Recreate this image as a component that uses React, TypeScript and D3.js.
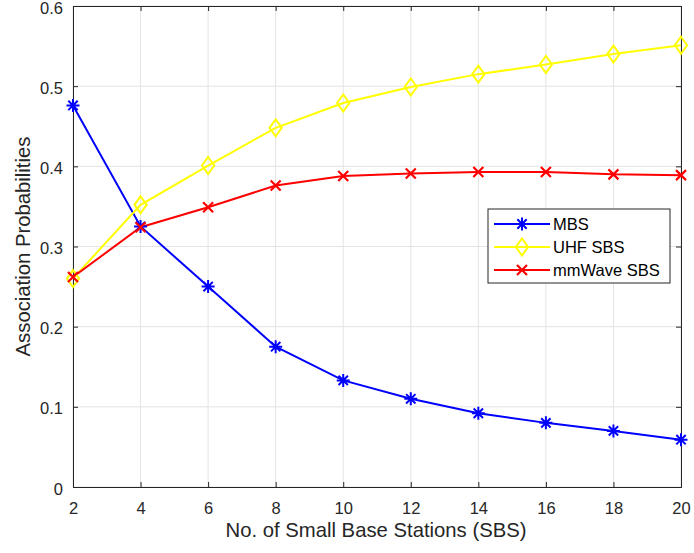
import React, { useEffect, useRef } from "react";
import * as d3 from "d3";

const xValues = [2, 4, 6, 8, 10, 12, 14, 16, 18, 20];
const mbs = [0.476, 0.325, 0.25, 0.175, 0.133, 0.11, 0.092, 0.08, 0.07, 0.059];
const uhf = [0.26, 0.352, 0.401, 0.448, 0.479, 0.499, 0.515, 0.527, 0.54, 0.551];
const mmwave = [0.262, 0.324, 0.349, 0.376, 0.388, 0.391, 0.393, 0.393, 0.39, 0.389];
const xTicks = [2, 4, 6, 8, 10, 12, 14, 16, 18, 20];
const yTicks = [0, 0.1, 0.2, 0.3, 0.4, 0.5, 0.6];

const series = [
  { name: "MBS", values: mbs, color: "#0000ff", marker: "star" },
  { name: "UHF SBS", values: uhf, color: "#ffff00", marker: "diamond" },
  { name: "mmWave SBS", values: mmwave, color: "#ff0000", marker: "x" },
];

const width = 694;
const height = 553;
const margin = { top: 6, right: 13, bottom: 66, left: 73 };
const font = "'Liberation Sans', Arial, Helvetica, sans-serif";

function drawMarker(g: any, kind: string, x: number, y: number, color: string) {
  if (kind === "diamond") {
    const s = 8.5;
    g.append("path")
      .attr("d", `M${x},${y - s}L${x + s * 0.72},${y}L${x},${y + s}L${x - s * 0.72},${y}Z`)
      .attr("fill", "none")
      .attr("stroke", color)
      .attr("stroke-width", 2);
  } else if (kind === "x") {
    const s = 5;
    g.append("path")
      .attr("d", `M${x - s},${y - s}L${x + s},${y + s}M${x - s},${y + s}L${x + s},${y - s}`)
      .attr("stroke", color)
      .attr("stroke-width", 2.2);
  } else {
    const s = 6.5;
    const d = s * 0.72;
    g.append("path")
      .attr(
        "d",
        `M${x},${y - s}L${x},${y + s}M${x - s},${y}L${x + s},${y}` +
          `M${x - d},${y - d}L${x + d},${y + d}M${x - d},${y + d}L${x + d},${y - d}`
      )
      .attr("stroke", color)
      .attr("stroke-width", 2);
  }
}

export default function App() {
  const ref = useRef<SVGSVGElement>(null);

  useEffect(() => {
    const svg = d3.select(ref.current);
    svg.selectAll("*").remove();

    const w = width - margin.left - margin.right;
    const h = height - margin.top - margin.bottom;

    const x = d3.scaleLinear().domain([2, 20]).range([0, w]);
    const y = d3.scaleLinear().domain([0, 0.6]).range([h, 0]);

    const g = svg.append("g").attr("transform", `translate(${margin.left},${margin.top})`);

    // grid
    g.append("g")
      .selectAll("line")
      .data(xTicks)
      .join("line")
      .attr("x1", (d) => x(d))
      .attr("x2", (d) => x(d))
      .attr("y1", 0)
      .attr("y2", h)
      .attr("stroke", "#e3e3e3");
    g.append("g")
      .selectAll("line")
      .data(yTicks)
      .join("line")
      .attr("x1", 0)
      .attr("x2", w)
      .attr("y1", (d) => y(d))
      .attr("y2", (d) => y(d))
      .attr("stroke", "#e3e3e3");

    // axes
    const axisColor = "#262626";
    const xAxis = g
      .append("g")
      .attr("transform", `translate(0,${h})`)
      .call(d3.axisBottom(x).tickValues(xTicks).tickSize(-5).tickPadding(15).tickFormat(d3.format("d")));
    const yAxis = g
      .append("g")
      .call(d3.axisLeft(y).tickValues(yTicks).tickSize(-5).tickPadding(10).tickFormat((d: any) => (d === 0 ? "0" : d3.format(".1f")(d))));
    yAxis.selectAll("text").attr("dy", "7px");
    const xTop = g.append("g").call(d3.axisTop(x).tickValues(xTicks).tickSize(-5).tickFormat(() => ""));
    const yRight = g
      .append("g")
      .attr("transform", `translate(${w},0)`)
      .call(d3.axisRight(y).tickValues(yTicks).tickSize(-5).tickFormat(() => ""));
    [xAxis, yAxis, xTop, yRight].forEach((a) => {
      a.selectAll("path,line").attr("stroke", axisColor);
      a.selectAll("text").attr("fill", axisColor).style("font-family", font).style("font-size", "16.5px");
    });

    // lines
    const line = d3
      .line<number>()
      .x((_, i) => x(xValues[i]))
      .y((d) => y(d));
    series.forEach((s) => {
      g.append("path")
        .attr("d", line(s.values))
        .attr("fill", "none")
        .attr("stroke", s.color)
        .attr("stroke-width", 2);
    });
    series.forEach((s) => {
      s.values.forEach((v, i) => drawMarker(g, s.marker, x(xValues[i]), y(v), s.color));
    });

    // axis labels
    svg
      .append("text")
      .attr("x", 376)
      .attr("y", 537)
      .attr("text-anchor", "middle")
      .attr("fill", axisColor)
      .style("font-family", font)
      .style("font-size", "20.3px")
      .text("No. of Small Base Stations (SBS)");
    svg
      .append("text")
      .attr("transform", `translate(30,${margin.top + h / 2}) rotate(-90)`)
      .attr("text-anchor", "middle")
      .attr("fill", axisColor)
      .style("font-family", font)
      .style("font-size", "20.3px")
      .text("Association Probabilities");

    // legend
    const lg = svg.append("g").attr("transform", "translate(488,209)");
    lg.append("rect")
      .attr("width", 182)
      .attr("height", 74)
      .attr("fill", "white")
      .attr("stroke", axisColor);
    series.forEach((s, i) => {
      const ly = 15 + i * 23;
      lg.append("line")
        .attr("x1", 6)
        .attr("x2", 62)
        .attr("y1", ly)
        .attr("y2", ly)
        .attr("stroke", s.color)
        .attr("stroke-width", 2);
      drawMarker(lg, s.marker, 34, ly, s.color);
      lg.append("text")
        .attr("x", 65)
        .attr("y", ly + 6)
        .attr("fill", "#000")
        .style("font-family", font)
        .style("font-size", "16.5px")
        .text(s.name);
    });
  }, []);

  return (
    <svg
      ref={ref}
      width={width}
      height={height}
      style={{ position: "absolute", left: 0, top: 0, display: "block" }}
    />
  );
}
